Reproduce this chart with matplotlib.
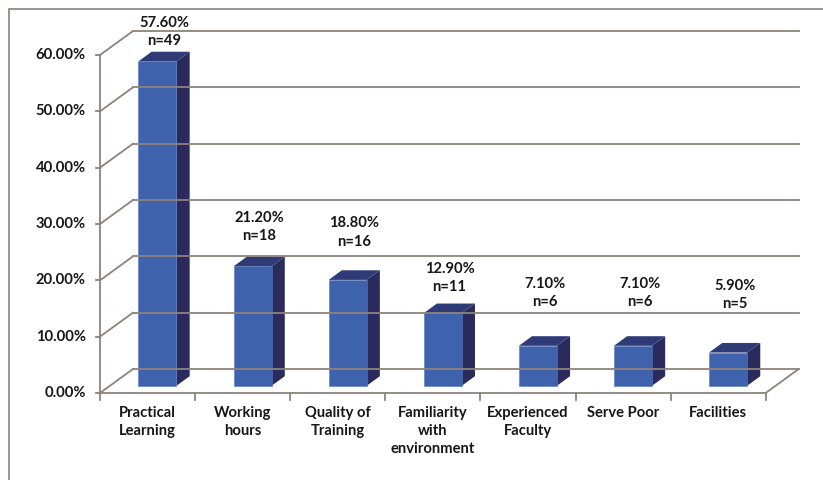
import matplotlib
matplotlib.use("Agg")
import matplotlib.pyplot as plt
from matplotlib.patches import Polygon, Rectangle
from matplotlib.lines import Line2D

categories = ["Practical\nLearning", "Working\nhours", "Quality of\nTraining",
              "Familiarity\nwith\nenvironment", "Experienced\nFaculty",
              "Serve Poor", "Facilities"]
percentages = [57.6, 21.2, 18.8, 12.9, 7.1, 7.1, 5.9]
counts = [49, 18, 16, 11, 6, 6, 5]
y_ticks = [0, 10, 20, 30, 40, 50, 60]

plt.rcParams["font.family"] = ["Lato", "DejaVu Sans"]

W, H, DPI = 823, 480, 100
fig = plt.figure(figsize=(W / DPI, H / DPI), dpi=DPI)
fig.patch.set_facecolor("white")

# chart frame (open on the right and bottom edges)
fig.add_artist(Rectangle((9 / W, -0.1), 1.2, 1 - 9 / H + 0.1,
                         transform=fig.transFigure, fill=False,
                         edgecolor="#8c817c", linewidth=1.2))

# plot area in pixel units: front baseline x 100..766, y 0% at 393, 60% at 55
px_per_cat = 95.1
px_per_pct = 338 / 60
depth_dx_px, depth_dy_px = 33, 24
DX = depth_dx_px / px_per_cat
DY = depth_dy_px / px_per_pct
n = len(categories)

left_px, right_px = 100, 100 + n * px_per_cat + depth_dx_px
bottom_px = 393
top_px = 393 - (60 + DY) * px_per_pct
ax = fig.add_axes([left_px / W, 1 - bottom_px / H,
                   (right_px - left_px) / W, (bottom_px - top_px) / H])
ax.set_xlim(0, n + DX)
ax.set_ylim(0, 60 + DY)
ax.axis("off")

grid_c = "#8e827d"
lw = 1.3
fs = 10.6
txt_c = "#161616"

# back wall gridlines and side wall diagonals
for v in y_ticks:
    ax.add_line(Line2D([DX, n + DX], [v + DY, v + DY], color=grid_c, lw=lw,
                       clip_on=False))
    ax.add_line(Line2D([0, DX], [v, v + DY], color=grid_c, lw=lw, clip_on=False))

# floor front edge and right edge
ax.add_line(Line2D([0, n], [0, 0], color=grid_c, lw=lw, clip_on=False))
ax.add_line(Line2D([n, n + DX], [0, DY], color=grid_c, lw=lw, clip_on=False))
# vertical value axis
ax.add_line(Line2D([0, 0], [0, 60], color=grid_c, lw=lw, clip_on=False))

# value axis ticks and labels
tick_len_x = 4 / px_per_cat
for v in y_ticks:
    ax.add_line(Line2D([-tick_len_x, 0], [v, v], color=grid_c, lw=lw,
                       clip_on=False))
    ax.text(-14 / px_per_cat, v, f"{v:.2f}%", ha="right", va="center",
            fontsize=fs, fontweight="bold", color=txt_c)

# category axis ticks and labels
tick_len_y = 7 / px_per_pct
for i in range(n + 1):
    ax.add_line(Line2D([i, i], [0, -tick_len_y], color=grid_c, lw=lw,
                       clip_on=False))
for i, cat in enumerate(categories):
    ax.text(i + 0.5, -13 / px_per_pct, cat, ha="center", va="top",
            fontsize=fs, fontweight="bold", color=txt_c, linespacing=1.35)

# 3D columns
front_c = "#3e63ac"
side_c = "#2b2a5c"
top_c = "#2f3b77"
bar_w = 0.4
f0, f1 = 0.3, 0.7
ox, oy = f0 * DX, f0 * DY
ddx, ddy = (f1 - f0) * DX, (f1 - f0) * DY

# vertical position of each two-line value label (in value-axis units)
label_y = [64.1, 29.5, 28.5, 20.4, 17.8, 17.8, 17.4]

for i, (v, c) in enumerate(zip(percentages, counts)):
    x0 = i + 0.5 - bar_w / 2 + ox
    x1 = x0 + bar_w
    y0 = oy
    y1 = v + oy
    ax.add_patch(Polygon([(x1, y0), (x1 + ddx, y0 + ddy), (x1 + ddx, y1 + ddy),
                          (x1, y1)], closed=True, facecolor=side_c,
                         edgecolor="none", clip_on=False))
    ax.add_patch(Polygon([(x0, y1), (x1, y1), (x1 + ddx, y1 + ddy),
                          (x0 + ddx, y1 + ddy)], closed=True, facecolor=top_c,
                         edgecolor="none", clip_on=False))
    ax.add_patch(Rectangle((x0, y0), bar_w, v, facecolor=front_c,
                           edgecolor="#5577bb", linewidth=0.4, clip_on=False))
    ax.text((x0 + x1) / 2 + 0.07, label_y[i], f"{v:.2f}%\nn={c}",
            ha="center", va="center", fontsize=fs, fontweight="bold",
            color=txt_c, linespacing=1.4, clip_on=False)

fig.savefig("out.png", dpi=DPI, facecolor="white")
